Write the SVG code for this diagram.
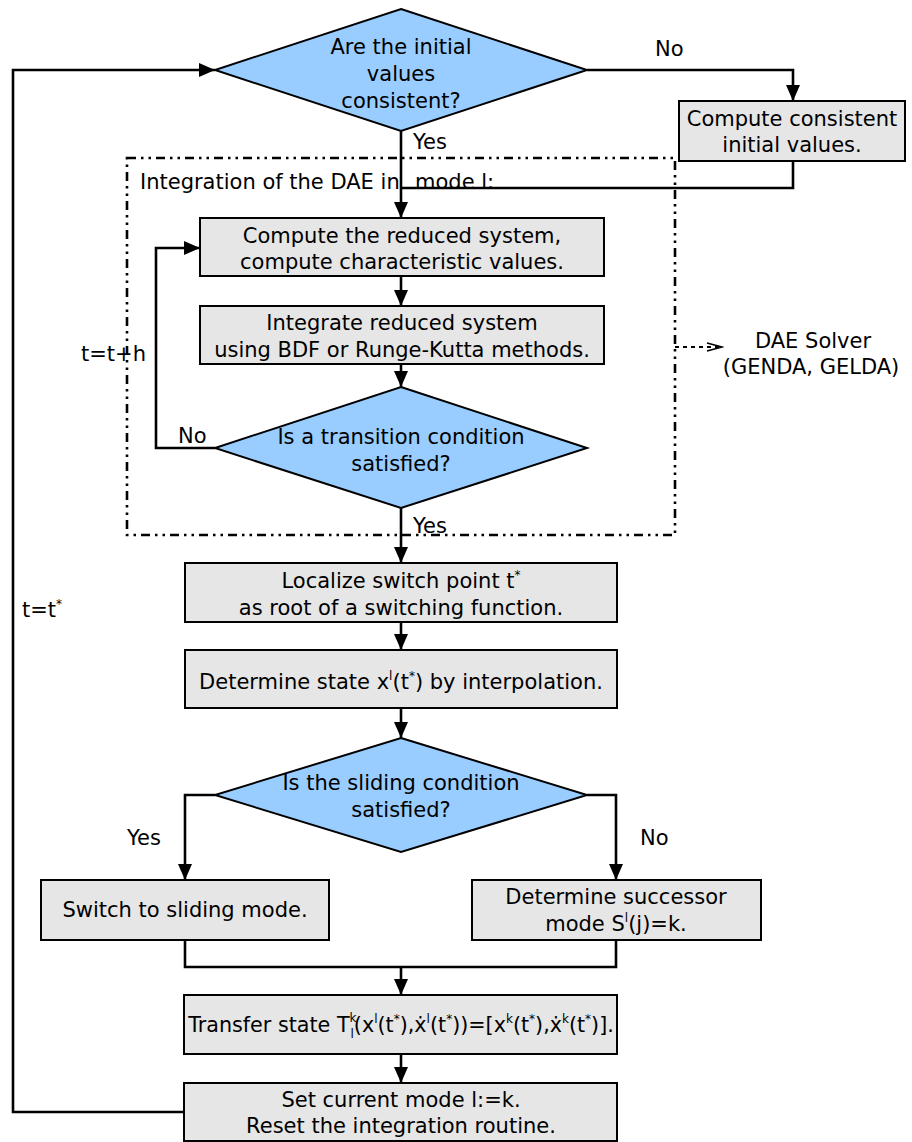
<svg xmlns="http://www.w3.org/2000/svg" width="912" height="1142" viewBox="0 0 912 1142">
<defs>
<style>
text{font-family:"DejaVu Sans","Liberation Sans",sans-serif;font-size:21px;fill:#000}
.c{text-anchor:middle}
.t20{font-size:20.7px}
.box{fill:#e6e6e6;stroke:#000;stroke-width:2}
.dia{fill:#99ccff;stroke:#000;stroke-width:2}
.ln{fill:none;stroke:#000;stroke-width:2.6}
.frame{fill:none;stroke:#000;stroke-width:2.6;stroke-dasharray:9 5 2.5 5 2.5 5}
.dot{fill:none;stroke:#000;stroke-width:2.2;stroke-dasharray:4 4}
.s{font-size:12px}
</style>
<marker id="ah" markerWidth="18" markerHeight="16" refX="16" refY="7" orient="auto" markerUnits="userSpaceOnUse">
<path d="M0,0 L16,7 L0,14 Z" fill="#000"/>
</marker>
<marker id="oh" markerWidth="18" markerHeight="12" refX="16" refY="5" orient="auto" markerUnits="userSpaceOnUse">
<path d="M1,1 L16,5 L1,9" fill="none" stroke="#000" stroke-width="1.6"/>
</marker>
</defs>
<rect width="912" height="1142" fill="#fff"/>

<g id="frame">
<rect class="frame" x="127" y="158" width="548" height="377"/>
<text x="140" y="189">Integration of the DAE in</text>
<text x="415" y="189">mode l:</text>
</g>

<g id="connectors">
<path class="ln" d="M587,70 H793 V101" marker-end="url(#ah)"/>
<path class="ln" d="M793,161 V188 H401"/>
<path class="ln" d="M401,131 V218" marker-end="url(#ah)"/>
<path class="ln" d="M401,276 V306" marker-end="url(#ah)"/>
<path class="ln" d="M401,364 V387" marker-end="url(#ah)"/>
<path class="ln" d="M215,448 H156 V248 H200" marker-end="url(#ah)"/>
<path class="ln" d="M401,508 V563" marker-end="url(#ah)"/>
<path class="ln" d="M401,622 V650" marker-end="url(#ah)"/>
<path class="ln" d="M401,708 V738" marker-end="url(#ah)"/>
<path class="ln" d="M215,795 H185 V880" marker-end="url(#ah)"/>
<path class="ln" d="M587,795 H616 V880" marker-end="url(#ah)"/>
<path class="ln" d="M185,940 V967 H616 V940"/>
<path class="ln" d="M401,967 V995" marker-end="url(#ah)"/>
<path class="ln" d="M401,1054 V1083" marker-end="url(#ah)"/>
<path class="ln" d="M184,1112 H13 V70 H215" marker-end="url(#ah)"/>
<path class="dot" d="M675,347 H722" marker-end="url(#oh)"/>
<text x="655" y="56">No</text>
<text x="413" y="149">Yes</text>
<text x="178" y="443">No</text>
<text x="413" y="533">Yes</text>
<text x="127" y="845">Yes</text>
<text x="640" y="845">No</text>
<text x="81" y="361">t=t+h</text>
<text x="22" y="617">t=t<tspan class="s" dy="-9">*</tspan></text>
</g>

<g id="n_initial">
<polygon class="dia" points="401,9 587,70 401,131 215,70"/>
<text class="c" x="401" y="54">Are the initial</text>
<text class="c" x="401" y="81">values</text>
<text class="c" x="401" y="108">consistent?</text>
</g>

<g id="n_consistent">
<rect class="box" x="679" y="101" width="226" height="60"/>
<text class="c" x="792" y="126">Compute consistent</text>
<text class="c" x="792" y="152">initial values.</text>
</g>

<g id="n_reduced">
<rect class="box" x="200" y="218" width="404" height="58"/>
<text class="c" x="402" y="243">Compute the reduced system,</text>
<text class="c" x="402" y="269">compute characteristic values.</text>
</g>

<g id="n_integrate">
<rect class="box" x="200" y="306" width="404" height="58"/>
<text class="c" x="402" y="330">Integrate reduced system</text>
<text class="c" x="402" y="357">using BDF or Runge-Kutta methods.</text>
</g>

<g id="n_transition">
<polygon class="dia" points="401,387 587,448 401,508 215,448"/>
<text class="c" x="401" y="444">Is a transition condition</text>
<text class="c" x="401" y="471">satisfied?</text>
</g>

<g id="n_solver">
<text class="c" x="813" y="348">DAE Solver</text>
<text class="c" x="811" y="374">(GENDA, GELDA)</text>
</g>

<g id="n_localize">
<rect class="box" x="185" y="563" width="432" height="59"/>
<text class="c" x="401" y="588">Localize switch point t<tspan class="s" dy="-9">*</tspan></text>
<text class="c" x="401" y="615">as root of a switching function.</text>
</g>

<g id="n_state">
<rect class="box" x="185" y="650" width="432" height="58"/>
<text class="c" x="401" y="689">Determine state x<tspan class="s" dy="-9">l</tspan><tspan dy="9">(t</tspan><tspan class="s" dy="-9">*</tspan><tspan dy="9">) by interpolation.</tspan></text>
</g>

<g id="n_sliding">
<polygon class="dia" points="401,738 587,795 401,852 215,795"/>
<text class="c" x="401" y="790">Is the sliding condition</text>
<text class="c" x="401" y="817">satisfied?</text>
</g>

<g id="n_switch">
<rect class="box" x="41" y="880" width="288" height="60"/>
<text class="c" x="185" y="917">Switch to sliding mode.</text>
</g>

<g id="n_successor">
<rect class="box" x="472" y="880" width="289" height="60"/>
<text class="c" x="616" y="904">Determine successor</text>
<text class="c" x="616" y="931">mode S<tspan class="s" dy="-9">l</tspan><tspan dy="9">(j)=k.</tspan></text>
</g>

<g id="n_transfer">
<rect class="box" x="184" y="995" width="433" height="59"/>
<text class="c t20" x="401" y="1032">Transfer state T<tspan class="s" dy="-10">k</tspan><tspan class="s" dx="-6" dy="16">l</tspan><tspan dy="-6">(x</tspan><tspan class="s" dy="-9">l</tspan><tspan dy="9">(t</tspan><tspan class="s" dy="-9">*</tspan><tspan dy="9">),ẋ</tspan><tspan class="s" dy="-9">l</tspan><tspan dy="9">(t</tspan><tspan class="s" dy="-9">*</tspan><tspan dy="9">))=[x</tspan><tspan class="s" dy="-9">k</tspan><tspan dy="9">(t</tspan><tspan class="s" dy="-9">*</tspan><tspan dy="9">),ẋ</tspan><tspan class="s" dy="-9">k</tspan><tspan dy="9">(t</tspan><tspan class="s" dy="-9">*</tspan><tspan dy="9">)].</tspan></text>
</g>

<g id="n_setmode">
<rect class="box" x="184" y="1083" width="433" height="58"/>
<text class="c" x="401" y="1107">Set current mode l:=k.</text>
<text class="c" x="401" y="1133">Reset the integration routine.</text>
</g>
</svg>
